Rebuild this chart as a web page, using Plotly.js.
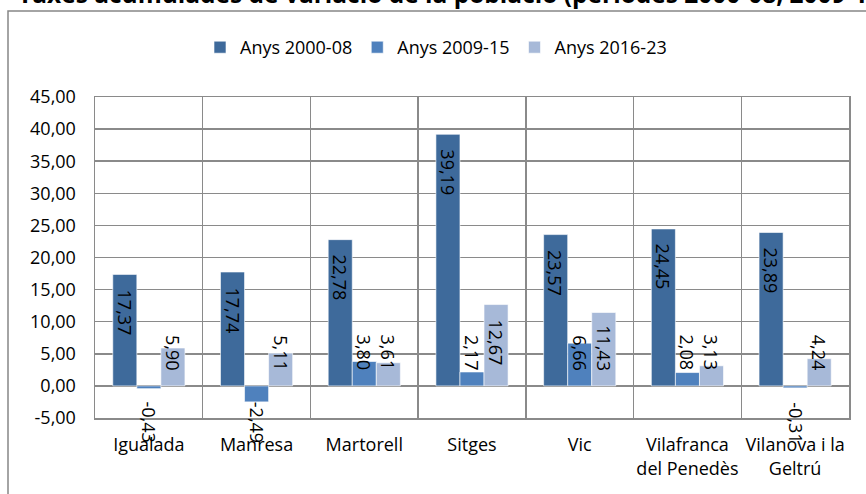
<!DOCTYPE html>
<html>
<head>
<meta charset="utf-8">
<script src="https://cdn.plot.ly/plotly-3.0.1.min.js"></script>
<style>html,body{margin:0;padding:0;background:#fff;}#chart{width:866px;height:494px;}</style>
</head>
<body>
<div id="chart"></div>
<script>
// ---- data ----
var categories = ["Igualada", "Manresa", "Martorell", "Sitges", "Vic", "Vilafranca<br>del Penedès", "Vilanova i la<br>Geltrú"];
var seriesNames = ["Anys 2000-08", "Anys 2009-15", "Anys 2016-23"];
var anys2000_08 = [17.37, 17.74, 22.78, 39.19, 23.57, 24.45, 23.89];
var anys2009_15 = [-0.43, -2.49, 3.80, 2.17, 6.66, 2.08, -0.31];
var anys2016_23 = [5.90, 5.11, 3.61, 12.67, 11.43, 3.13, 4.24];
var yTickVals = [-5, 0, 5, 10, 15, 20, 25, 30, 35, 40, 45];
var yTickText = ["-5,00", "0,00", "5,00", "10,00", "15,00", "20,00", "25,00", "30,00", "35,00", "40,00", "45,00"];
var titleText = "Taxes acumulades de variació de la població (períodes 2000-08, 2009-15 i 2016-23)";

// ---- styling ----
var colors = ["#3E6A9B", "#4F81BD", "#A7B9D8"];
var FONT = "Open Sans";
var W = 866, H = 494;
var margin = {l: 95, r: 17, t: 97, b: 76};
var yRange = [-5, 45];
var bargap = 0.33;
var series = [anys2000_08, anys2009_15, anys2016_23];

function fmt(v) { return v.toFixed(2).replace('.', ','); }

var traces = series.map(function (vals, j) {
  return {
    type: 'bar',
    name: seriesNames[j],
    x: categories,
    y: vals,
    marker: {color: colors[j], line: {color: 'rgba(255,255,255,0.6)', width: 1}},
    hoverinfo: 'none'
  };
});

// rotated data labels, placed like Excel's rotated "inside end" labels
var plotH = H - margin.t - margin.b;
var ppu = plotH / (yRange[1] - yRange[0]);
var fs = 18;
function textLen(s) {
  var n = 0;
  for (var i = 0; i < s.length; i++) {
    var c = s[i];
    n += (c === ',') ? 0.25 : (c === '-') ? 0.32 : 0.572;
  }
  return n * fs;
}
var annotations = [];
var slot = (1 - bargap) / 3;
series.forEach(function (vals, j) {
  vals.forEach(function (v, i) {
    var t = fmt(v);
    var a = {
      x: i + (j - 1) * slot, xref: 'x', yref: 'y',
      text: t, textangle: 90, showarrow: false,
      font: {family: FONT, size: fs, color: '#000'},
      xanchor: 'center', borderpad: 0
    };
    if (v < 0) {
      a.y = 0; a.yanchor = 'top'; a.yshift = -15;
    } else if (v * ppu - 16 - textLen(t) < 16) {
      a.y = 0; a.yanchor = 'bottom'; a.yshift = 14;
    } else {
      a.y = v; a.yanchor = 'top'; a.yshift = -14;
    }
    annotations.push(a);
  });
});

var plotW = W - margin.l - margin.r;
var layout = {
  width: W, height: H,
  margin: margin,
  paper_bgcolor: '#fff', plot_bgcolor: '#fff',
  font: {family: FONT, size: fs, color: '#000'},
  title: {
    text: '<b>' + titleText + '</b>',
    font: {family: FONT, size: 24.5, color: '#000'},
    x: 18 / W, xanchor: 'left', xref: 'container',
    y: 1 - 3 / H, yanchor: 'bottom', yref: 'container'
  },
  barmode: 'group', bargap: bargap, bargroupgap: 0,
  showlegend: true,
  legend: {
    orientation: 'h', x: (436 - margin.l) / plotW, xanchor: 'center',
    y: 1 + (margin.t - 47.5) / plotH, yanchor: 'middle',
    font: {family: FONT, size: fs, color: '#000'},
    traceorder: 'normal', itemclick: false
  },
  xaxis: {
    type: 'category', tickson: 'boundaries', ticks: '', tickangle: 0,
    showgrid: true, gridcolor: '#8a8a8a', gridwidth: 1.5,
    showline: true, mirror: true, linecolor: '#8a8a8a', linewidth: 1.5,
    range: [-0.5, 6.5], ticklabelstandoff: 10, fixedrange: true
  },
  yaxis: {
    range: yRange, tickvals: yTickVals, ticktext: yTickText, ticks: '',
    showgrid: true, gridcolor: '#8a8a8a', gridwidth: 1.5, zeroline: false,
    showline: true, mirror: true, linecolor: '#8a8a8a', linewidth: 1.5,
    ticklabelstandoff: 14, fixedrange: true
  },
  annotations: annotations,
  shapes: [{
    type: 'rect', xref: 'paper', yref: 'paper', layer: 'above',
    x0: (8 - margin.l) / plotW, x1: (W + 20 - margin.l) / plotW,
    y0: -(margin.b + 20) / plotH, y1: 1 + (margin.t - 11) / plotH,
    line: {color: '#868686', width: 1.5}, fillcolor: 'rgba(0,0,0,0)'
  }]
};

Plotly.newPlot('chart', traces, layout, {staticPlot: true, displayModeBar: false});
</script>
</body>
</html>
